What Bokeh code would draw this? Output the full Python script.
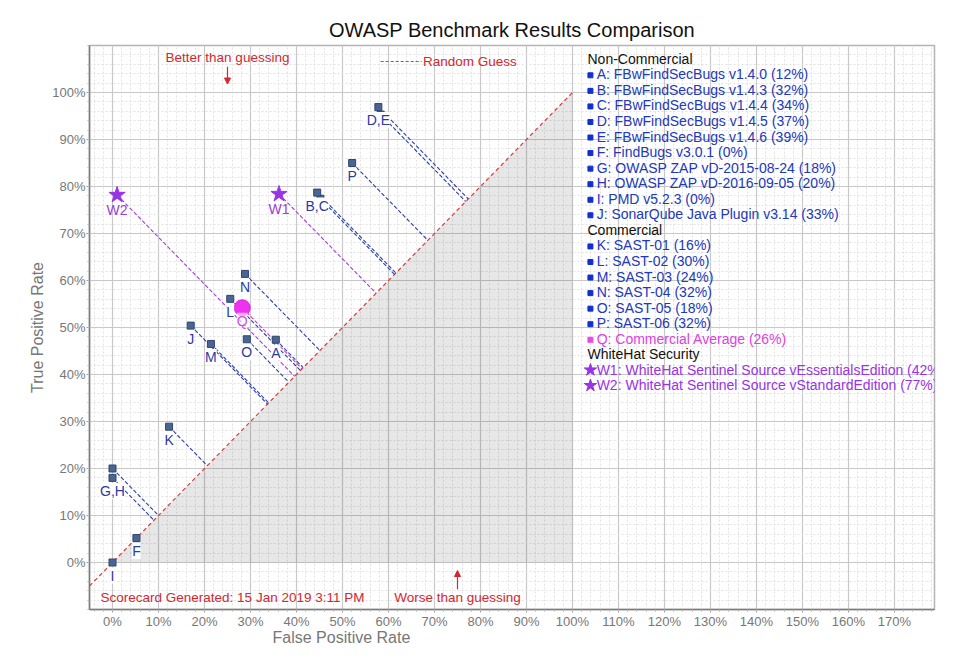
from bokeh.plotting import figure
from bokeh.models import (Range1d, FixedTicker, NumeralTickFormatter, Label, Arrow,
                          NormalHead, ColumnDataSource, Title)
from bokeh.core.properties import value
from bokeh.embed import file_html
from bokeh.resources import INLINE

# ---------------- data ----------------
tool_ids = ["A", "B", "C", "D", "E", "F", "G", "H", "I", "J",
            "K", "L", "M", "N", "O", "P"]
tool_names = ["FBwFindSecBugs v1.4.0", "FBwFindSecBugs v1.4.3", "FBwFindSecBugs v1.4.4",
              "FBwFindSecBugs v1.4.5", "FBwFindSecBugs v1.4.6", "FindBugs v3.0.1",
              "OWASP ZAP vD-2015-08-24", "OWASP ZAP vD-2016-09-05", " PMD v5.2.3",
              "SonarQube Java Plugin v3.14",
              "SAST-01", "SAST-02", "SAST-03", "SAST-04", "SAST-05", "SAST-06"]
tool_scores = [12, 32, 34, 37, 39, 0, 18, 20, 0, 33, 16, 30, 24, 32, 18, 32]
tool_fpr = [0.355, 0.452, 0.445, 0.583, 0.578, 0.052, 0.0, 0.0, 0.0, 0.170,
            0.123, 0.256, 0.214, 0.288, 0.292, 0.521]
tool_tpr = [0.474, 0.774, 0.787, 0.953, 0.969, 0.052, 0.18, 0.20, 0.0, 0.504,
            0.289, 0.561, 0.465, 0.614, 0.475, 0.850]
point_labels = ["A", "", "B,C", "", "D,E", "F", "G,H", "", "I", "J",
                "K", "L", "M", "N", "O", "P"]
n_noncommercial = 10

avg_id, avg_name, avg_score = "Q", "Commercial Average", 26
avg_fpr, avg_tpr = 0.282, 0.542

wh_ids = ["W1", "W2"]
wh_names = ["WhiteHat Sentinel Source vEssentialsEdition",
            " WhiteHat Sentinel Source vStandardEdition"]
wh_scores = [42, 77]
wh_fpr = [0.362, 0.010]
wh_tpr = [0.784, 0.782]

guess_line = [0.0, 1.0]
x_ticks = [i / 10 for i in range(0, 18)]
y_ticks = [i / 10 for i in range(0, 11)]

# ---------------- styling ----------------
FONT = "Liberation Sans"
RED = "#d6262f"
BLUE_TXT = "#2238bc"
BLUE_LBL = "#2a3aa6"
MAGENTA = "#ee33ee"
PURPLE = "#9a33e6"

X0, X1, Y0, Y1 = -0.05, 1.787, -0.1, 1.1

p = figure(width=958, height=656, x_range=Range1d(X0, X1), y_range=Range1d(Y0, Y1),
           output_backend="svg", toolbar_location=None,
           min_border_left=89, min_border_right=24, min_border_top=45, min_border_bottom=47)
p.background_fill_color = "white"
p.border_fill_color = "white"
p.outline_line_color = "#b4b4b4"
p.outline_line_width = 1.5

p.title.text = "OWASP Benchmark Results Comparison"
p.title.align = "center"
p.title.text_font = FONT
p.title.text_font_size = "20px"
p.title.text_font_style = "normal"
p.title.text_color = "#111111"

minor_x = [round(-0.04 + i * 0.02, 4) for i in range(0, 92)]
minor_y = [round(-0.1 + i * 0.02, 4) for i in range(0, 61)]
p.xaxis.ticker = FixedTicker(ticks=x_ticks, minor_ticks=minor_x)
p.yaxis.ticker = FixedTicker(ticks=y_ticks, minor_ticks=minor_y)
p.xaxis.formatter = NumeralTickFormatter(format="0%")
p.yaxis.formatter = NumeralTickFormatter(format="0%")
for ax in (p.xaxis, p.yaxis):
    ax.axis_line_color = "#7a7a7a"
    ax.axis_line_width = 1.5
    ax.major_tick_line_color = "#9a9a9a"
    ax.minor_tick_line_color = "#b0b0b0"
    ax.major_tick_out = 3
    ax.major_tick_in = 0
    ax.minor_tick_out = 2
    ax.minor_tick_in = 0
    ax.major_label_text_font = FONT
    ax.major_label_text_font_size = "13px"
    ax.major_label_text_color = "#777777"
    ax.major_label_standoff = 1

p.grid.grid_line_color = "#c8c8c8"
p.grid.grid_line_width = 1.2
p.grid.minor_grid_line_color = "#e2e2e2"
p.grid.minor_grid_line_dash = "2 2"

# axis titles centred over the 0-100% span (the frame itself is wider)
p.add_layout(Title(text="False Positive Rate", align="left", offset=183,
                   text_font=FONT, text_font_size="16px", text_font_style="normal",
                   text_color="#777777", standoff=-10), "below")
p.add_layout(Title(text="True Positive Rate", align="center", offset=0,
                   text_font=FONT, text_font_size="16px", text_font_style="normal",
                   text_color="#777777", standoff=8), "left")

# shaded "worse than guessing" triangle
p.patch([guess_line[0], guess_line[1], guess_line[1]],
        [guess_line[0], guess_line[1], guess_line[0]],
        fill_color="black", fill_alpha=0.095, line_color=None)

# random-guess diagonal
p.line([X0, guess_line[1]], [X0, guess_line[1]], line_color="#d83c3c",
       line_dash="4 3", line_width=1.2)

# perpendicular projections onto diagonal
def foot(xs, ys):
    return [(a + b) / 2 for a, b in zip(xs, ys)]

tf = foot(tool_fpr, tool_tpr)
p.segment(x0=tool_fpr, y0=tool_tpr, x1=tf, y1=tf, line_color="#2c3fa8",
          line_dash="4 2", line_width=1.1)
af = foot([avg_fpr], [avg_tpr])
p.segment(x0=[avg_fpr], y0=[avg_tpr], x1=af, y1=af, line_color="#c640d0",
          line_dash="4 2", line_width=1.1)
wf = foot(wh_fpr, wh_tpr)
p.segment(x0=wh_fpr, y0=wh_tpr, x1=wf, y1=wf, line_color="#a040e0",
          line_dash="4 2", line_width=1.1)

# markers
p.scatter(tool_fpr, tool_tpr, marker="square", size=7, fill_color="#4a6592",
          line_color="#2f4670")
p.scatter([avg_fpr], [avg_tpr], marker="circle", size=16, fill_color=MAGENTA,
          line_color="#e020e0")
p.scatter(wh_fpr, wh_tpr, marker="star", size=17, fill_color=PURPLE, line_color=PURPLE)

# point labels
lbl_src = ColumnDataSource(dict(x=tool_fpr, y=tool_tpr, t=point_labels))
p.text(x="x", y="y", text="t", source=lbl_src, text_align="center", text_baseline="top",
       y_offset=5, text_font=value(FONT), text_font_size="14px", text_color=BLUE_LBL,
       background_fill_color="white")
p.text(x=[avg_fpr], y=[avg_tpr], text=[avg_id], text_align="center", text_baseline="top",
       y_offset=5, text_font=value(FONT), text_font_size="14px", text_color="#d050d8",
       background_fill_color="white", background_fill_alpha=0.6)
p.text(x=wh_fpr, y=wh_tpr, text=wh_ids, text_align="center", text_baseline="top",
       y_offset=7, text_font=value(FONT), text_font_size="14px", text_color="#9a40d6")

# ---------------- legend (text block inside the frame) ----------------
rows = [("head", "Non-Commercial", "#111111")]
for i in range(n_noncommercial):
    rows.append(("sq", f"{tool_ids[i]}: {tool_names[i]} ({tool_scores[i]}%)", BLUE_TXT))
rows.append(("head", "Commercial", "#111111"))
for i in range(n_noncommercial, len(tool_ids)):
    rows.append(("sq", f"{tool_ids[i]}: {tool_names[i]} ({tool_scores[i]}%)", BLUE_TXT))
rows.append(("sqm", f"{avg_id}: {avg_name} ({avg_score}%)", "#e040e0"))
rows.append(("head", "WhiteHat Security", "#111111"))
for i in range(len(wh_ids)):
    rows.append(("star", f"{wh_ids[i]}: {wh_names[i]} ({wh_scores[i]}%)", PURPLE))

top_y, step = 1.0717, 0.0331
head_x, mark_x, item_x = 1.0326, 1.039, 1.0525
hx, hy, ht, hc = [], [], [], []
for i, (kind, txt, col) in enumerate(rows):
    hx.append(head_x if kind == "head" else item_x)
    hy.append(top_y - i * step)
    ht.append(txt)
    hc.append(col)
leg_src = ColumnDataSource(dict(x=hx, y=hy, t=ht, c=hc))
p.text(x="x", y="y", text="t", text_color="c", source=leg_src, text_align="left",
       text_baseline="middle", text_font=value(FONT), text_font_size="14px")

sqy = [top_y - i * step - 0.002 for i, k in enumerate(rows) if k[0] == "sq"]
p.scatter([mark_x] * len(sqy), sqy, marker="square", size=5, fill_color="#1030d0",
          line_color="#1030d0")
mqy = [top_y - i * step - 0.002 for i, k in enumerate(rows) if k[0] == "sqm"]
p.scatter([mark_x] * len(mqy), mqy, marker="square", size=5, fill_color="#ee44ee",
          line_color="#ee44ee")
sty = [top_y - i * step for i, k in enumerate(rows) if k[0] == "star"]
p.scatter([mark_x] * len(sty), sty, marker="star", size=13, fill_color=PURPLE,
          line_color=PURPLE)

# ---------------- annotations ----------------
def red_label(x, y, txt, align="center", color=RED):
    p.add_layout(Label(x=x, y=y, text=txt, text_align=align, text_baseline="middle",
                       text_font=FONT, text_font_size="13.5px", text_color=color))

red_label(0.25, 1.074, "Better than guessing")
p.add_layout(Arrow(x_start=0.25, y_start=1.055, x_end=0.25, y_end=1.018,
                   line_color=RED, line_width=1.2,
                   end=NormalHead(size=6, fill_color=RED, line_color=RED)))
red_label(0.75, -0.074, "Worse than guessing")
p.add_layout(Arrow(x_start=0.75, y_start=-0.057, x_end=0.75, y_end=-0.017,
                   line_color=RED, line_width=1.2,
                   end=NormalHead(size=6, fill_color=RED, line_color=RED)))
p.line([0.583, 0.672], [1.066, 1.066], line_color="#e03a3a", line_dash="3 2", line_width=1.2)
red_label(0.675, 1.066, "Random Guess", align="left")
red_label(-0.026, -0.0745, "Scorecard Generated: 15 Jan 2019  3:11 PM", align="left")

open("out.html", "w").write(file_html(p, INLINE))
